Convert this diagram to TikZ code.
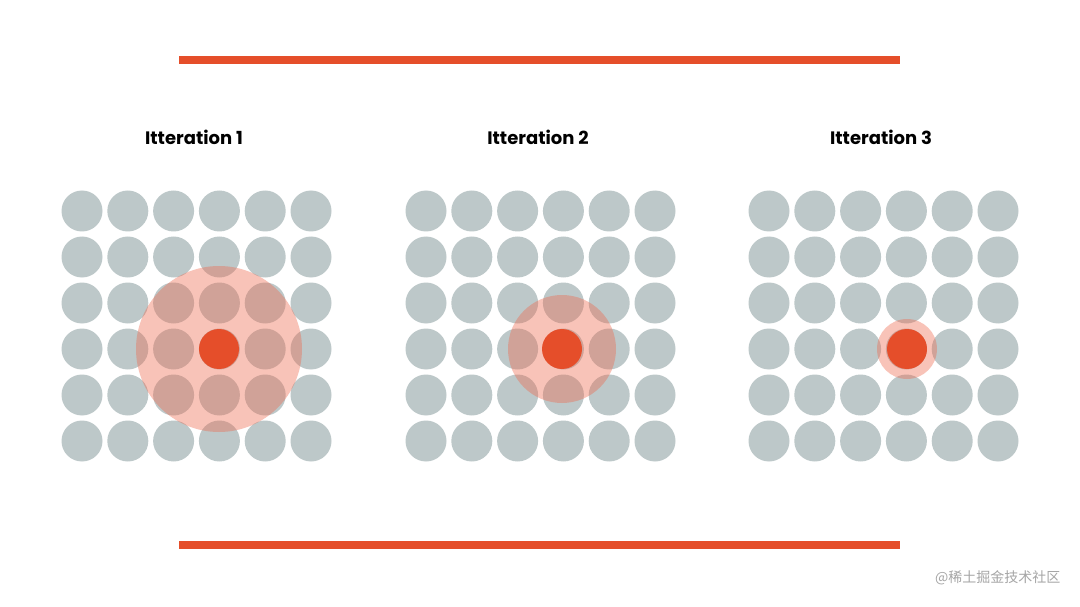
\documentclass[tikz,border=0pt]{standalone}
\usepackage{fontspec}
\setmainfont{Poppins}
\newfontfamily\cjk{Noto Sans CJK SC}
\definecolor{dotgray}{HTML}{BDC8C9}
\definecolor{accent}{HTML}{E54E2A}
\definecolor{halo}{HTML}{EE6A4F}
\tikzset{
  dotc/.style={circle,fill=dotgray,minimum size=41pt,inner sep=0pt},
  hot/.style={circle,fill=accent,minimum size=40pt,inner sep=0pt},
  haloc/.style={circle,fill=halo,fill opacity=0.4,inner sep=0pt},
  bar/.style={accent,line width=8pt},
  title/.style={font=\bfseries\fontsize{18pt}{20pt}\selectfont}
}
\begin{document}
\begin{tikzpicture}[x=1pt,y=-1pt]
\useasboundingbox (0,0) rectangle (1080,607);
\fill[white] (0,0) rectangle (1080,607);
\coordinate (t1) at (179,60); \coordinate (t2) at (900,60);
\coordinate (b1) at (179,545); \coordinate (b2) at (900,545);
\draw[bar] (t1) -- (t2);
\draw[bar] (b1) -- (b2);
\foreach \k/\x/\r/\hx in {1/82/83/219, 2/426/54/562, 3/769/30/907} {
  \node[title] (title\k) at (\x+112,137) {Itteration \k};
  \foreach \i in {0,...,5} \foreach \j in {0,...,5}
    \node[dotc] (d\k-\i-\j) at (\x+\i*45.8,211+\j*46) {};
  \node[haloc,minimum size=2*\r pt] (h\k) at (\hx,349) {};
  \node[hot] (c\k) at (\hx,349) {};
}
\node[anchor=east,text=gray!70,font=\cjk\fontsize{14pt}{16pt}\selectfont] (wm) at (1064,578) {@稀土掘金技术社区};
\end{tikzpicture}
\end{document}
